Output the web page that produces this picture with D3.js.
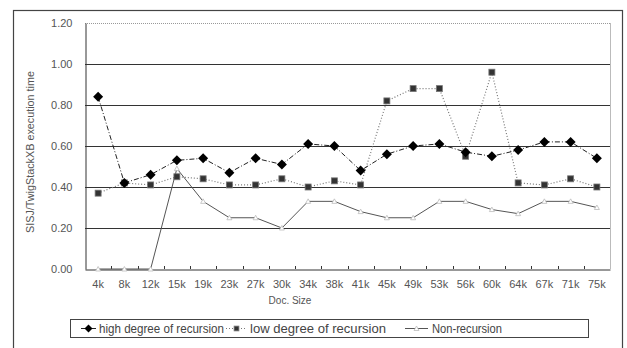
<!DOCTYPE html>
<html>
<head>
<meta charset="utf-8">
<script src="https://cdn.jsdelivr.net/npm/d3@7"></script>
<style>
  body { margin: 0; background: #fff; }
  svg { font-family: "Liberation Sans", Arial, sans-serif; }
</style>
</head>
<body>
<svg id="chart" width="627" height="348"></svg>
<script>
// data
const docSizes = ["4k","8k","12k","15k","19k","23k","27k","30k","34k","38k",
  "41k","45k","49k","53k","56k","60k","64k","67k","71k","75k"];
const highRecursion = [0.84,0.42,0.46,0.53,0.54,0.47,0.54,0.51,0.61,0.60,
  0.48,0.56,0.60,0.61,0.57,0.55,0.58,0.62,0.62,0.54];
const lowRecursion = [0.37,0.42,0.41,0.45,0.44,0.41,0.41,0.44,0.40,0.43,
  0.41,0.82,0.88,0.88,0.55,0.96,0.42,0.41,0.44,0.40];
const nonRecursion = [0,0,0,0.49,0.33,0.25,0.25,0.20,0.33,0.33,
  0.28,0.25,0.25,0.33,0.33,0.29,0.27,0.33,0.33,0.30];
const yTicks = [0,0.2,0.4,0.6,0.8,1.0,1.2];

const svg = d3.select("#chart");
const plot = { left: 85, right: 610, top: 23, bottom: 269 };

// outer frame
svg.append("rect")
  .attr("x", 13.5).attr("y", 10.5)
  .attr("width", 609).attr("height", 345)
  .attr("fill", "none").attr("stroke", "#444").attr("stroke-width", 1.2);

const x = d3.scaleBand().domain(docSizes).range([plot.left, plot.right]);
const y = d3.scaleLinear().domain([0, 1.2]).range([plot.bottom, plot.top]);
const cx = d => x(d) + x.bandwidth() / 2;

// gridlines
svg.append("g").selectAll("line")
  .data(yTicks.filter(t => t > 0))
  .join("line")
  .attr("x1", plot.left).attr("x2", plot.right)
  .attr("y1", d => Math.round(y(d)) + 0.5).attr("y2", d => Math.round(y(d)) + 0.5)
  .attr("stroke", d => d === 1.2 ? "#999" : "#333")
  .attr("stroke-dasharray", d => d === 1.2 ? "1,1" : null)
  .attr("stroke-width", 1);

// right border of plot
svg.append("line")
  .attr("x1", plot.right + 0.5).attr("x2", plot.right + 0.5)
  .attr("y1", plot.top).attr("y2", plot.bottom)
  .attr("stroke", "#bbb");

// y axis
const yAxis = svg.append("g")
  .attr("transform", `translate(${plot.left + 0.5},0)`)
  .call(d3.axisLeft(y).tickValues(yTicks).tickFormat(d3.format(".2f")).tickSize(0).tickPadding(13));
yAxis.select(".domain").attr("stroke", "#333");
yAxis.selectAll("text").attr("fill", "#555").style("font-size", "11px");

// x axis
const xAxis = svg.append("g")
  .attr("transform", `translate(0,${plot.bottom + 0.5})`)
  .call(d3.axisBottom(x).tickSize(0).tickPadding(11));
xAxis.select(".domain").attr("stroke", "#333");
xAxis.selectAll("text").attr("fill", "#555").style("font-size", "11px");
// small inward tick marks at category boundaries
svg.append("g").selectAll("line")
  .data(docSizes.slice(1))
  .join("line")
  .attr("x1", d => Math.round(x(d)) + 0.5).attr("x2", d => Math.round(x(d)) + 0.5)
  .attr("y1", plot.bottom).attr("y2", plot.bottom - 3)
  .attr("stroke", "#333");

// axis titles
svg.append("text")
  .attr("transform", `translate(34,152) rotate(-90)`)
  .attr("text-anchor", "middle")
  .attr("fill", "#555").style("font-size", "10.5px")
  .attr("textLength", 162).attr("lengthAdjust", "spacingAndGlyphs")
  .text("SISJ/TwigStackXB execution time");
svg.append("text")
  .attr("x", 290).attr("y", 304)
  .attr("text-anchor", "middle")
  .attr("fill", "#555").style("font-size", "10px")
  .text("Doc. Size");

const line = d3.line().x((d, i) => cx(docSizes[i])).y(d => y(d));

const series = [
  { name: "high degree of recursion", values: highRecursion, stroke: "#222", dash: "5,2,1,2", width: 1, marker: "diamond" },
  { name: "low degree of recursion", values: lowRecursion, stroke: "#777", dash: "1,2", width: 1.2, marker: "square" },
  { name: "Non-recursion", values: nonRecursion, stroke: "#555", dash: null, width: 1, marker: "triangle" }
];

function drawMarker(g, type, px, py, s = 1) {
  if (type === "diamond") {
    const r = 5 * s;
    g.append("path")
      .attr("d", `M${px},${py - r}L${px + r},${py}L${px},${py + r}L${px - r},${py}Z`)
      .attr("fill", "#000");
  } else if (type === "square") {
    const r = 3 * s;
    g.append("rect")
      .attr("x", px - r).attr("y", py - r).attr("width", 2 * r).attr("height", 2 * r)
      .attr("fill", "#333").attr("stroke", "#777").attr("stroke-width", 0.8);
  } else {
    g.append("path")
      .attr("d", `M${px},${py - 2.5}L${px + 2.5},${py + 2}L${px - 2.5},${py + 2}Z`)
      .attr("fill", "#fff").attr("stroke", "#bbb").attr("stroke-width", 0.8);
  }
}

// draw non-recursion first, then low, then high on top
[series[2], series[1], series[0]].forEach(s => {
  const g = svg.append("g");
  g.append("path")
    .attr("d", line(s.values))
    .attr("fill", "none")
    .attr("stroke", s.stroke)
    .attr("stroke-width", s.width)
    .attr("stroke-dasharray", s.dash);
  s.values.forEach((v, i) => drawMarker(g, s.marker, cx(docSizes[i]), y(v)));
});

// legend
const legend = svg.append("g");
legend.append("rect")
  .attr("x", 70.5).attr("y", 319.5).attr("width", 518).attr("height", 18)
  .attr("fill", "#fff").attr("stroke", "#444");
const legendPos = [
  { x0: 81, x1: 96, tx: 99, len: 125 },
  { x0: 226, x1: 247, tx: 250, len: 136 },
  { x0: 405, x1: 428, tx: 432, len: 70 }
];
series.forEach((s, i) => {
  const p = legendPos[i];
  const ly = 328.5;
  legend.append("line")
    .attr("x1", p.x0).attr("x2", p.x1).attr("y1", ly).attr("y2", ly)
    .attr("stroke", s.stroke).attr("stroke-width", s.width)
    .attr("stroke-dasharray", s.dash);
  drawMarker(legend, s.marker, (p.x0 + p.x1) / 2, ly, 0.8);
  legend.append("text")
    .attr("x", p.tx).attr("y", ly + 4.5)
    .attr("fill", "#444").style("font-size", "12.5px")
    .attr("textLength", p.len).attr("lengthAdjust", "spacingAndGlyphs")
    .text(s.name);
});
</script>
</body>
</html>
